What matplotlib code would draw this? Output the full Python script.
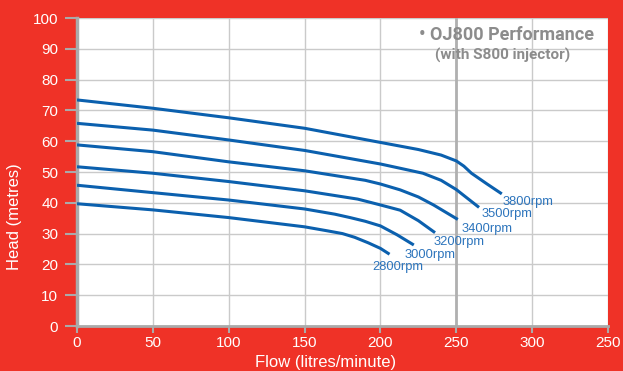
import matplotlib
matplotlib.use("Agg")
import matplotlib.pyplot as plt

# pump curves (flow l/min, head m)
speeds = ["3800rpm", "3500rpm", "3400rpm", "3200rpm", "3000rpm", "2800rpm"]

flow_3800 = [0, 50, 100, 150, 200, 225, 240, 250, 255, 260, 270, 280]
head_3800 = [73.4, 70.7, 67.6, 64.2, 59.6, 57.3, 55.5, 53.6, 51.9, 49.6, 46.2, 42.9]

flow_3500 = [0, 50, 100, 150, 200, 215, 228, 240, 250, 265]
head_3500 = [65.8, 63.6, 60.4, 57.0, 52.6, 51.0, 49.6, 47.3, 44.3, 38.5]

flow_3400 = [0, 50, 100, 150, 190, 200, 213, 225, 235, 251]
head_3400 = [58.8, 56.6, 53.3, 50.4, 47.3, 46.1, 44.2, 41.9, 39.3, 34.6]

flow_3200 = [0, 50, 100, 150, 185, 200, 213, 225, 236]
head_3200 = [51.7, 49.6, 46.9, 43.9, 41.2, 39.3, 37.6, 34.2, 30.3]

flow_3000 = [0, 50, 100, 150, 170, 180, 190, 200, 211, 222]
head_3000 = [45.7, 43.3, 40.9, 38.0, 36.3, 35.2, 34.0, 32.5, 29.6, 26.3]

flow_2800 = [0, 50, 100, 150, 165, 175, 183, 192, 200, 206]
head_2800 = [39.7, 37.7, 35.2, 32.2, 30.9, 30.0, 28.8, 27.0, 25.2, 23.3]

# label anchors (left edge, vertical centre) in data units
label_x = [280.8, 266.8, 253.6, 235.3, 215.8, 194.5]
label_y = [40.3, 36.3, 31.5, 27.2, 23.1, 19.1]

x_ticks = [0, 50, 100, 150, 200, 250, 300, 350]
x_tick_labels = ["0", "50", "100", "150", "200", "250", "300", "250"]
y_ticks = [0, 10, 20, 30, 40, 50, 60, 70, 80, 90, 100]

red = "#ef3227"
blue = "#0b60ae"
grey = "#aaaaaa"
sans = ["Liberation Sans", "DejaVu Sans"]

fig = plt.figure(figsize=(6.23, 3.71), dpi=100, facecolor=red)
ax = fig.add_axes([77 / 623, 45 / 371, 531 / 623, 308 / 371])
ax.set_facecolor("white")

ax.set_xlim(0, 350)
ax.set_ylim(0, 100)

ax.set_xticks(x_ticks)
ax.set_xticklabels(x_tick_labels)
ax.set_yticks(y_ticks)

ax.grid(True, color="#cacaca", linewidth=1.0)
ax.set_axisbelow(True)
ax.axvline(250, color="#b0b0b0", linewidth=2.0, zorder=1)

for s in ["top", "right"]:
    ax.spines[s].set_visible(False)
ax.spines["left"].set_color(grey)
ax.spines["left"].set_linewidth(2.5)
ax.spines["bottom"].set_color(grey)
ax.spines["bottom"].set_linewidth(2.0)

ax.tick_params(axis="y", colors=grey, length=8.5, width=1.5, pad=5,
               labelcolor="white", labelsize=11)
ax.tick_params(axis="x", colors=grey, length=5, width=1.5, pad=2.5,
               labelcolor="white", labelsize=11)
for lab in ax.get_xticklabels() + ax.get_yticklabels():
    lab.set_family(sans)

ax.set_xlabel("Flow (litres/minute)", color="white", fontsize=12, family=sans,
              va="center")
ax.xaxis.set_label_coords(0.469, -0.120)
ax.set_ylabel("Head (metres)", color="white", fontsize=12, family=sans,
              va="center")
ax.yaxis.set_label_coords(-0.117, 0.354)

curves = [(flow_3800, head_3800), (flow_3500, head_3500), (flow_3400, head_3400),
          (flow_3200, head_3200), (flow_3000, head_3000), (flow_2800, head_2800)]
for (fx, hy), name, lx, ly in zip(curves, speeds, label_x, label_y):
    ax.plot(fx, hy, color=blue, linewidth=2.2, solid_capstyle="butt", zorder=3)
    ax.text(lx, ly, name, color="#2c74bc", fontsize=9.3, ha="left", va="center",
            family=sans, zorder=4)

ax.text(340.8, 94.5, "\u2022 OJ800 Performance", color="#8c8c8c", fontsize=13,
        fontweight="bold", ha="right", va="center", family=["Roboto", "DejaVu Sans"])
ax.text(325, 87.7, "(with S800 injector)", color="#8c8c8c", fontsize=11,
        fontweight="bold", ha="right", va="center", family=["Roboto", "DejaVu Sans"])

fig.savefig("out.png", dpi=100, facecolor=red)
